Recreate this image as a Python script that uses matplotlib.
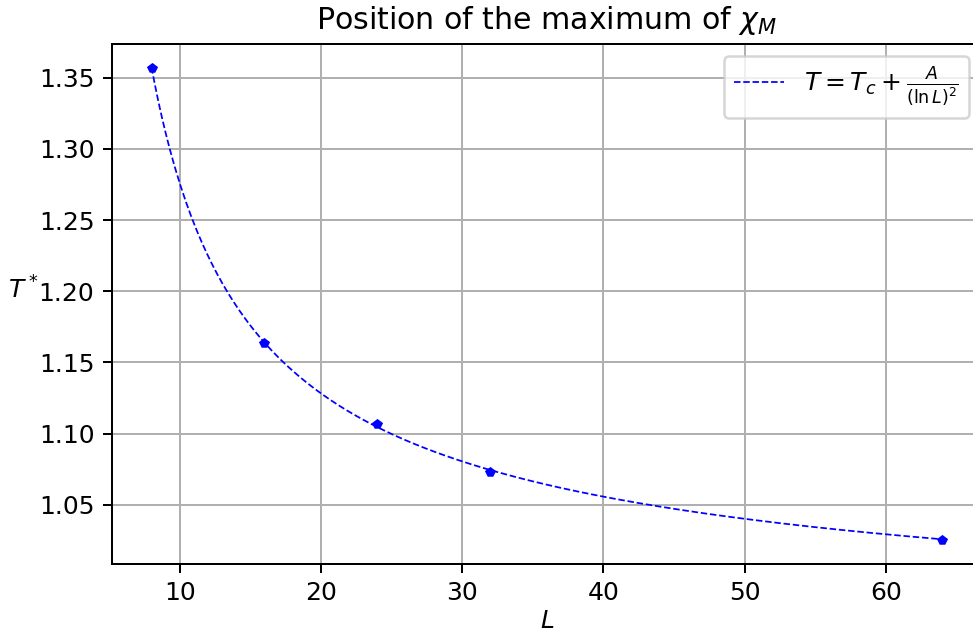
"""Position of the susceptibility maximum versus lattice size."""
import matplotlib
matplotlib.use("Agg")
import matplotlib.pyplot as plt
import numpy as np

L_VALUES = [8, 16, 24, 32, 64]
T_PEAK = [1.357, 1.164, 1.107, 1.073, 1.025]

DPI = 180


def fit_log_law(L, T):
    # T = Tc + A / (ln L)^2, linear least squares in 1/(ln L)^2
    u = 1.0 / np.log(np.asarray(L, dtype=float)) ** 2
    A, Tc = np.polyfit(u, np.asarray(T, dtype=float), 1)
    return Tc, A


def main():
    Tc, A = fit_log_law(L_VALUES, T_PEAK)
    L_fine = np.linspace(min(L_VALUES), max(L_VALUES), 300)
    T_fit = Tc + A / np.log(L_fine) ** 2

    fig = plt.figure(figsize=(973 / DPI, 632 / DPI), dpi=DPI)
    ax = fig.add_axes([0.1151, 0.1076, 0.8939, 0.8234])
    ax.plot(L_fine, T_fit, "b--", linewidth=0.7,
            label=r"$T = T_c + \frac{A}{(\ln L)^2}$")
    ax.plot(L_VALUES, T_PEAK, "bp", markersize=3)
    ax.grid(True)
    ax.legend(loc="upper right")
    ax.set_title(r"Position of the maximum of $\chi_M$")
    ax.set_xlabel(r"$L$", labelpad=1.5)
    ax.set_ylabel(r"$T^*$", rotation=0, labelpad=6)
    fig.savefig("out.png", dpi=DPI)
    plt.close(fig)


if __name__ == "__main__":
    main()
